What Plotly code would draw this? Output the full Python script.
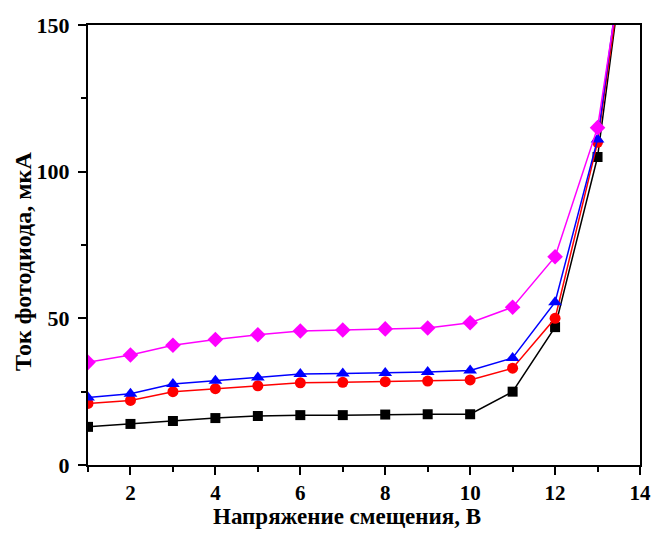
import plotly.graph_objects as go

voltage = [1, 2, 3, 4, 5, 6, 7, 8, 9, 10, 11, 12, 13, 14]
black_vals = [13, 14, 15, 16, 16.7, 17, 17, 17.2, 17.3, 17.3, 25, 47, 105, 215]
red_vals = [21, 22, 25, 26, 27, 28, 28.2, 28.4, 28.6, 29, 33, 50, 110, 212]
blue_vals = [23, 24.3, 27.6, 28.7, 29.8, 31, 31.2, 31.4, 31.7, 32.2, 36.5, 55.5, 111, 218]
magenta_vals = [35, 37.5, 40.8, 42.8, 44.4, 45.7, 46, 46.4, 46.7, 48.5, 53.8, 71, 115, 210]

x_ticks = [2, 4, 6, 8, 10, 12, 14]
y_ticks = [0, 50, 100, 150]
x_title = "Напряжение смещения, В"
y_title = "Ток фотодиода, мкА"

series = [
    (black_vals, "black", "square", 10),
    (red_vals, "red", "circle", 11),
    (blue_vals, "blue", "triangle-up", 12),
    (magenta_vals, "magenta", "diamond", 12),
]

fig = go.Figure()
for vals, color, sym, sz in series:
    fig.add_trace(go.Scatter(
        x=voltage, y=vals, mode="lines+markers",
        line=dict(color=color, width=1.5),
        marker=dict(color=color, symbol=sym, size=sz),
        showlegend=False,
    ))

font = dict(family="Liberation Serif", size=21, color="black")

fig.update_layout(
    width=654, height=537,
    margin=dict(l=88, r=14, t=25, b=72),
    plot_bgcolor="white", paper_bgcolor="white",
    font=font,
    annotations=[
        dict(text=f"<b>{x_title}</b>", xref="paper", yref="paper",
             x=0.469, y=-0.1165, xanchor="center", yanchor="middle",
             showarrow=False, font=dict(size=23)),
        dict(text=f"<b>{y_title}</b>", xref="paper", yref="paper",
             x=-0.1178, y=0.4636, xanchor="center", yanchor="middle",
             textangle=-90, showarrow=False, font=dict(size=24)),
    ],
)
fig.update_xaxes(
    range=[1, 14], tickvals=x_ticks, ticktext=[f"<b>{v}</b>" for v in x_ticks],
    ticks="outside", ticklen=8, tickwidth=2, tickcolor="black",
    minor=dict(dtick=1, tick0=1, ticklen=5, tickwidth=2, tickcolor="black", ticks="outside"),
    showline=True, linewidth=2, linecolor="black", mirror=True,
    showgrid=False, zeroline=False, automargin=False,
    tickfont=dict(size=21),
)
fig.update_yaxes(
    range=[0, 150], tickvals=y_ticks, ticktext=[f"<b>{v}</b>" for v in y_ticks],
    ticks="outside", ticklen=8, tickwidth=2, tickcolor="black",
    minor=dict(dtick=25, tick0=0, ticklen=5, tickwidth=2, tickcolor="black", ticks="outside"),
    showline=True, linewidth=2, linecolor="black", mirror=True,
    showgrid=False, zeroline=False, automargin=False,
    tickfont=dict(size=22), ticklabelstandoff=4,
)

fig.write_html("out.html", config={"displayModeBar": False},
               post_script="document.body.style.margin='0';")
